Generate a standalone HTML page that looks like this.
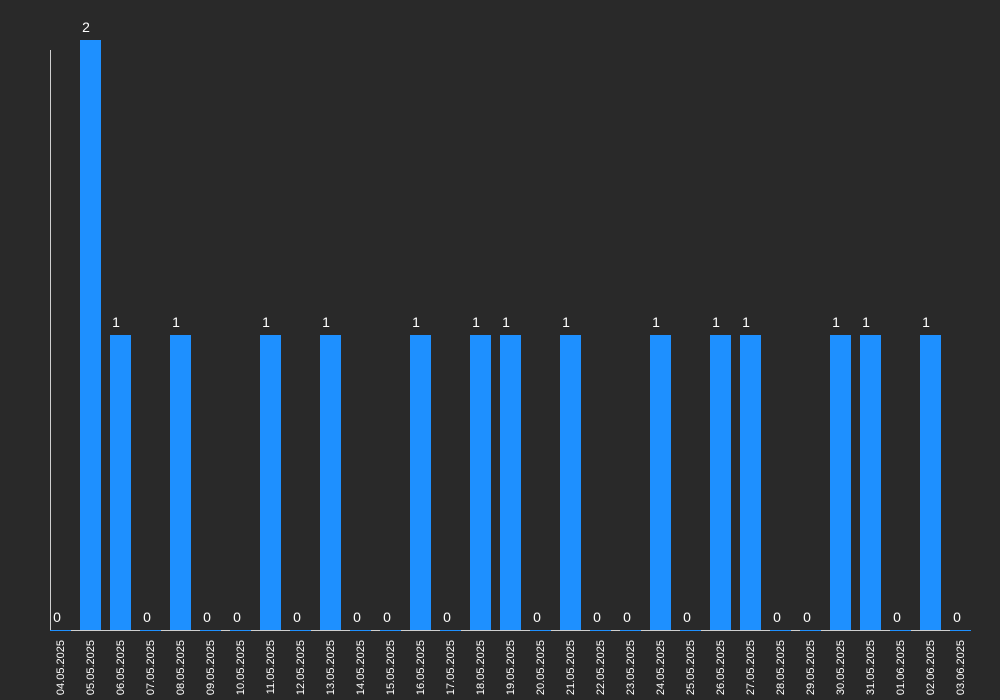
<!DOCTYPE html>
<html><head><meta charset="utf-8"><style>
body{margin:0;background:#292929;}
svg{display:block;font-family:"Liberation Sans",sans-serif;}
</style></head><body>
<svg id="chart" width="1000" height="700">
<line x1="50.5" y1="50" x2="50.5" y2="630" stroke="#cfcfcf" stroke-width="1"/>
<line x1="50" y1="630.5" x2="971" y2="630.5" stroke="#cfcfcf" stroke-width="1"/>
<g id="bars"></g>
</svg>
<script>
const categories=["04.05.2025","05.05.2025","06.05.2025","07.05.2025","08.05.2025","09.05.2025","10.05.2025","11.05.2025","12.05.2025","13.05.2025","14.05.2025","15.05.2025","16.05.2025","17.05.2025","18.05.2025","19.05.2025","20.05.2025","21.05.2025","22.05.2025","23.05.2025","24.05.2025","25.05.2025","26.05.2025","27.05.2025","28.05.2025","29.05.2025","30.05.2025","31.05.2025","01.06.2025","02.06.2025","03.06.2025"];
const values=[0,2,1,0,1,0,0,1,0,1,0,0,1,0,1,1,0,1,0,0,1,0,1,1,0,0,1,1,0,1,0];
const NS="http://www.w3.org/2000/svg";
const g=document.getElementById('bars');
const x0=50,plotW=930,band=plotW/categories.length,barW=21,yBase=630,yTop=40;
const maxV=Math.max(...values);
const xs=i=>x0+band*i;
const ys=v=>yBase-(yBase-yTop)*v/maxV;
categories.forEach((c,i)=>{
  const v=values[i];
  const x=xs(i);
  const y=ys(v);
  const r=document.createElementNS(NS,'rect');
  r.setAttribute('x',x);r.setAttribute('y',y);
  r.setAttribute('width',barW);r.setAttribute('height',Math.max(yBase-y,1));
  r.setAttribute('fill','#1e90ff');
  
  
  g.appendChild(r);
  const t=document.createElementNS(NS,'text');
  t.setAttribute('x',x+(v===0?7:6));t.setAttribute('y',y-8);
  t.setAttribute('fill','#ffffff');t.setAttribute('font-size','14');
  t.setAttribute('text-anchor','middle');
  t.textContent=v;
  
  
  g.appendChild(t);
  const l=document.createElementNS(NS,'text');
  const lx=x+14,ly=640;
  l.setAttribute('x',lx);l.setAttribute('y',ly);
  l.setAttribute('transform','rotate(-90 '+lx+' '+ly+')');
  l.setAttribute('text-anchor','end');
  l.setAttribute('fill','#ffffff');l.setAttribute('font-size','11');
  l.textContent=c;
  
  
  g.appendChild(l);
});
</script>
</body></html>
